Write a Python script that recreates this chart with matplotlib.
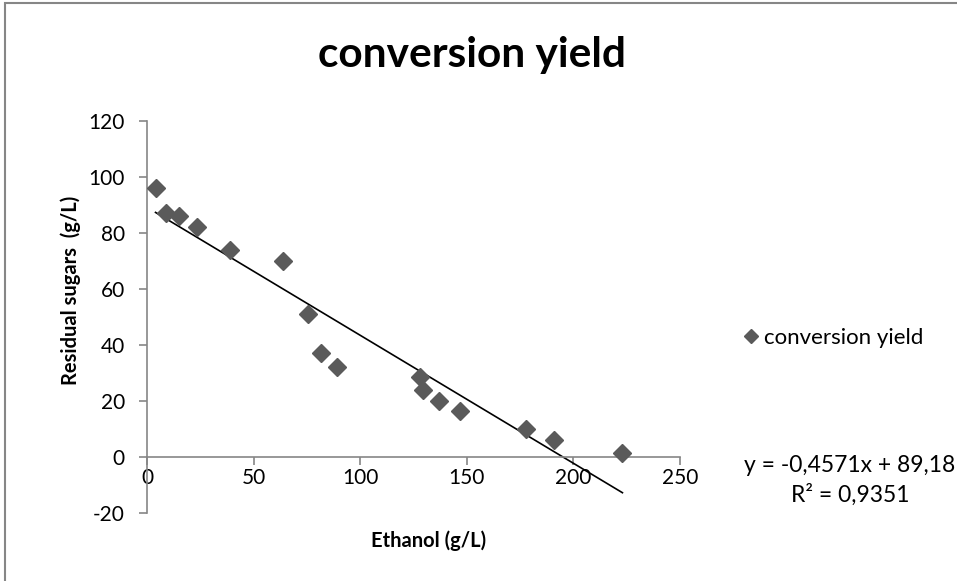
import matplotlib.pyplot as plt
from matplotlib.patches import Rectangle

# residual sugars vs ethanol measurements
ethanol = [4, 9, 15, 23.5, 39, 64, 75.5, 81.5, 89, 128, 129.5, 137, 147, 178, 191, 223]
sugars = [96, 87, 86, 82, 74, 70, 51, 37, 32, 28.5, 24, 20, 16.5, 10, 6, 1.4]

# linear trend from the fit
slope = -0.4571
intercept = 89.18
r2 = 0.9351

x_ticks = [0, 50, 100, 150, 200, 250]
y_ticks = [-20, 0, 20, 40, 60, 80, 100, 120]

plt.rcParams['font.family'] = ['Lato', 'DejaVu Sans']
plt.rcParams['axes.unicode_minus'] = False
gris = '#868686'
marker_color = '#5a5a5a'

fig = plt.figure(figsize=(9.57, 5.81), dpi=100)
ax = fig.add_axes([147/957, 68/581, 533/957, 392/581])

ax.plot(ethanol, sugars, linestyle='none', marker='D', markersize=9.5,
        color=marker_color, label='conversion yield', zorder=3)

x0, x1 = min(ethanol), max(ethanol)
ax.plot([x0, x1], [slope*x0 + intercept, slope*x1 + intercept],
        color='black', linewidth=1.2, zorder=2)

ax.set_xlim(0, 250)
ax.set_ylim(-20, 120)
ax.set_xticks(x_ticks)
ax.set_yticks(y_ticks)

# axes drawn Excel-style: x axis crosses at y = 0
ax.spines['top'].set_visible(False)
ax.spines['right'].set_visible(False)
ax.spines['bottom'].set_position(('data', 0))
for s in ('left', 'bottom'):
    ax.spines[s].set_color(gris)
    ax.spines[s].set_linewidth(1.2)
ax.tick_params(axis='both', direction='out', length=6, width=1.2, color=gris,
               labelsize=15, labelcolor='black')
ax.tick_params(axis='x', pad=2)
ax.tick_params(axis='y', pad=10)

ax.set_xlabel('Ethanol (g/L)', fontsize=14.5, fontweight='bold')
ax.xaxis.set_label_coords(0.529, -0.07)
ax.xaxis.label.set_va('center')
ax.set_ylabel('Residual sugars  (g/L)', fontsize=14.5, fontweight='bold')
ax.yaxis.set_label_coords(-0.144, 0.569)
ax.yaxis.label.set_va('center')

fig.text(472/957, 1 - 55/581, 'conversion yield', fontsize=30.5, fontweight='bold',
         ha='center', va='center')

fig.legend(loc='center left', bbox_to_anchor=(723/957, 1 - 338/581), frameon=False,
           fontsize=16, handlelength=0.7, handletextpad=0.25, markerscale=0.75)

fig.text(850/957, 1 - 465/581, f'y = {slope:.4f}x + {intercept:.2f}'.replace('.', ','),
         fontsize=16.5, ha='center', va='center')
fig.text(850/957, 1 - 495/581, f'R² = {r2:.4f}'.replace('.', ','),
         fontsize=16.5, ha='center', va='center')

# chart area border
fig.patches.append(Rectangle((5/957, -0.05), 1.2, 1 - 3/581 + 0.05,
                             transform=fig.transFigure, fill=False,
                             edgecolor=gris, linewidth=1.5))

fig.savefig('out.png', dpi=100)
